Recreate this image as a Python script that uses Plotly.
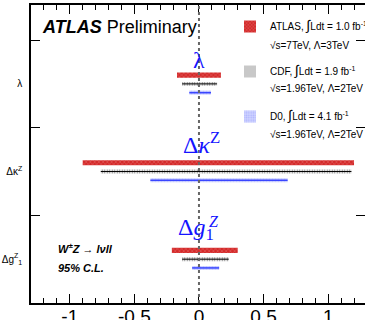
import plotly.graph_objects as go

# ---- data ----
params = ["λ", "Δκ<sup>Z</sup>", "Δg<sup>Z</sup><sub>1</sub>"]
param_y = [2.5, 1.5, 0.5]

atlas_lo = [-0.17, -0.90, -0.21]
atlas_hi = [0.17, 1.20, 0.30]
cdf_lo = [-0.13, -0.76, -0.13]
cdf_hi = [0.14, 1.18, 0.23]
d0_lo = [-0.075, -0.376, -0.053]
d0_hi = [0.093, 0.686, 0.156]

offsets = {"ATLAS": 0.1, "CDF": 0.0, "D0": -0.1}

x_tickvals = [-1, -0.5, 0, 0.5, 1]
x_ticktext = ["-1", "-0.5", "0", "0.5", "1"]

fig = go.Figure()

def add_exp(lo, hi, off, name, width, color, pattern, line_color=None, line_w=1):
    ys = [y + off for y in param_y]
    fig.add_trace(go.Bar(
        orientation="h", y=ys, x=[h - l for l, h in zip(lo, hi)], base=lo,
        width=width, name=name, legendgroup=name,
        marker=dict(color=color, line=dict(width=0), pattern=pattern),
        hoverinfo="skip",
    ))
    if line_color:
        for l, h, y in zip(lo, hi, ys):
            fig.add_trace(go.Scatter(x=[l, h], y=[y, y], mode="lines",
                                     line=dict(color=line_color, width=line_w),
                                     showlegend=False, hoverinfo="skip"))

add_exp(atlas_lo, atlas_hi, offsets["ATLAS"], "ATLAS, <span style='font-size:14px'>∫</span>Ldt = 1.0 fb<sup>-1</sup>",
        0.058, "#d42a2a",
        dict(shape="x", fgcolor="#f0a0a0", fillmode="overlay", size=3, solidity=0.3))
add_exp(cdf_lo, cdf_hi, offsets["CDF"], "CDF, <span style='font-size:14px'>∫</span>Ldt = 1.9 fb<sup>-1</sup>",
        0.045, "white",
        dict(shape="|", fgcolor="#222222", fillmode="overlay", size=2.5, solidity=0.5),
        line_color="black", line_w=1)
add_exp(d0_lo, d0_hi, offsets["D0"], "D0, <span style='font-size:14px'>∫</span>Ldt = 4.1 fb<sup>-1</sup>",
        0.045, "#d0d4ff",
        dict(shape=".", fgcolor="#8a90ff", fillmode="overlay", size=3, solidity=0.4),
        line_color="#3a46ff", line_w=1.5)

fig.add_vline(x=0, line=dict(color="#666666", width=2, dash="dot"))

ann = []
blue = "#1414ff"
serif = "Liberation Serif"
ann.append(dict(x=0, y=2.77, text="λ", font=dict(size=24, color=blue, family=serif)))
ann.append(dict(x=0.02, y=1.83, text="Δ<i>κ</i><sup>Z</sup>", font=dict(size=24, color=blue, family=serif)))
ann.append(dict(x=-0.02, y=0.845, text="Δ<i>g</i><sub>1</sub>", font=dict(size=24, color=blue, family=serif)))
ann.append(dict(x=0.12, y=0.925, text="<i>Z</i>", font=dict(size=16, color=blue, family=serif)))
ann.append(dict(x=-1.11, y=0.63, text="<b><i>W<sup>±</sup>Z → lνll</i></b>", xanchor="left",
                font=dict(size=11, color="black", family="Liberation Sans")))
ann.append(dict(x=-1.11, y=0.40, text="<b><i>95% C.L.</i></b>", xanchor="left",
                font=dict(size=11, color="black", family="Liberation Sans")))
for a in ann:
    a.update(showarrow=False, xref="x", yref="y")

# paper annotations
ann.append(dict(x=(40 - 31) / 334, y=1 - (27 - 5) / 298, xref="paper", yref="paper",
                xanchor="left", yanchor="middle",
                text="<b><i>ATLAS</i></b> Preliminary", showarrow=False,
                font=dict(size=18, color="black", family="Liberation Sans")))
for txt, ypx in [("√s=7TeV, Λ=3TeV", 45), ("√s=1.96TeV, Λ=2TeV", 88), ("√s=1.96TeV, Λ=2TeV", 135)]:
    ann.append(dict(x=(268 - 31) / 334, y=1 - (ypx - 5) / 298, xref="paper", yref="paper",
                    xanchor="left", yanchor="middle", text=txt, showarrow=False,
                    font=dict(size=10, color="black", family="Liberation Sans")))

fig.update_layout(
    width=365, height=320,
    margin=dict(l=31, r=0, t=5, b=17, autoexpand=False),
    paper_bgcolor="white", plot_bgcolor="white",
    barmode="overlay",
    showlegend=True,
    legend=dict(x=(230 - 31) / 334, xanchor="left", y=1 - (12 - 5) / 298, yanchor="top",
                font=dict(size=10, color="black", family="Liberation Sans"),
                bgcolor="rgba(0,0,0,0)", tracegroupgap=26, valign="middle"),
    annotations=ann,
    xaxis=dict(range=[-1.3, 1.285], tickvals=x_tickvals, ticktext=x_ticktext,
               ticks="inside", ticklen=9, tickwidth=1, tickcolor="black",
               ticklabelstandoff=-5,
               minor=dict(dtick=0.1, tick0=0, ticks="inside", ticklen=5, tickcolor="black"),
               showline=True, linecolor="black", linewidth=1.5, mirror="ticks",
               showgrid=False, zeroline=False,
               tickfont=dict(size=19, color="black", family="Liberation Sans")),
    yaxis=dict(range=[0, 3.4], tickvals=param_y, ticktext=params,
               ticks="", ticklabelstandoff=5,
               minor=dict(tickvals=[1, 2, 3], ticks="inside", ticklen=9, tickcolor="black"),
               showline=True, linecolor="black", linewidth=1.5, mirror="ticks",
               showgrid=False, zeroline=False,
               tickfont=dict(size=10, color="black", family="Liberation Sans")),
)

fig.write_html("out.html")
